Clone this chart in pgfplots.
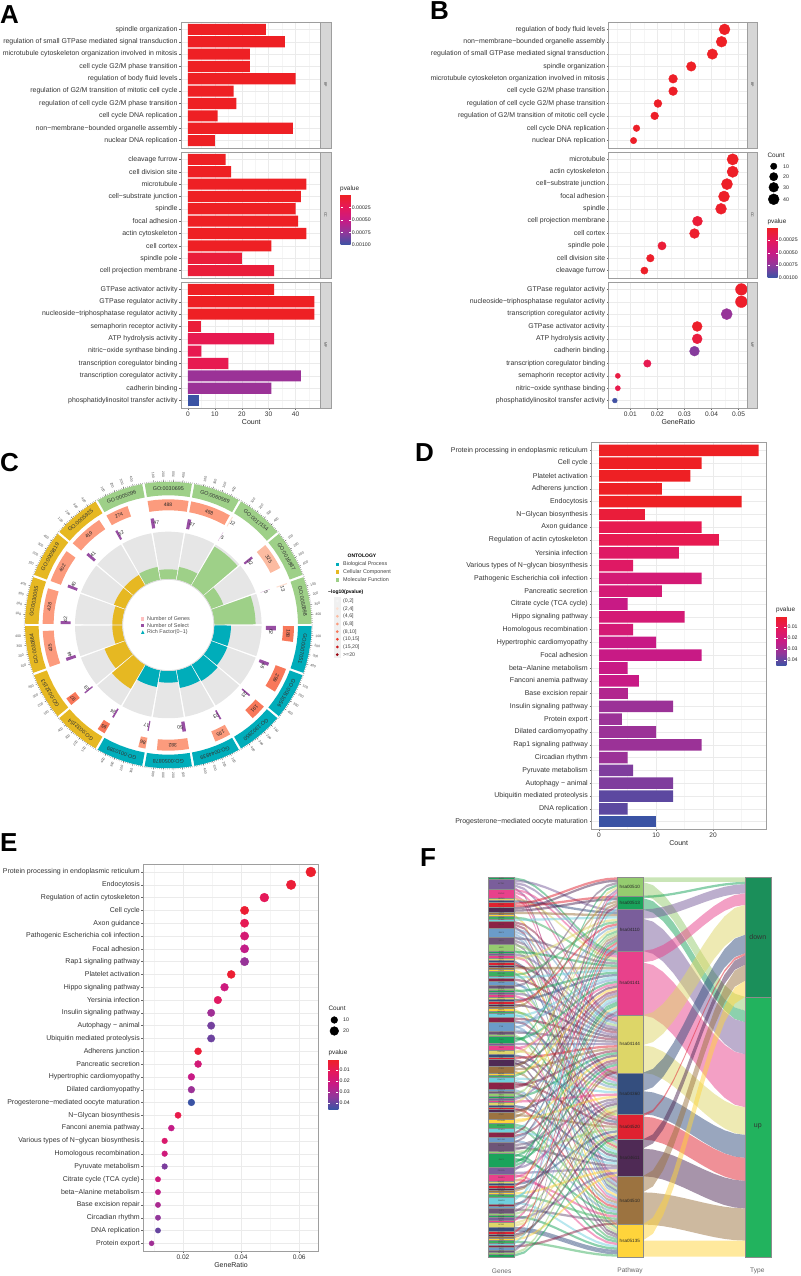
\documentclass[border=0pt]{standalone}
\usepackage{fontspec}
\setmainfont{Liberation Sans}
\usepackage{pgfplots}
\pgfplotsset{compat=1.18}
\usepgfplotslibrary{polar}

% p-value gradient, as continuous map and as steps for the bars
\pgfplotsset{colormap={pval}{rgb255=(238,32,36) rgb255=(229,25,92) rgb255=(200,26,133) rgb255=(144,56,155) rgb255=(58,83,164)}}
\definecolor{p0}{RGB}{238,32,36}
\definecolor{p1}{RGB}{234,29,58}
\definecolor{p2}{RGB}{231,26,81}
\definecolor{p3}{RGB}{223,25,100}
\definecolor{p4}{RGB}{212,26,117}
\definecolor{p5}{RGB}{200,26,133}
\definecolor{p6}{RGB}{178,38,142}
\definecolor{p7}{RGB}{155,50,151}
\definecolor{p8}{RGB}{127,61,157}
\definecolor{p9}{RGB}{92,72,160}
\definecolor{p10}{RGB}{58,83,164}

% alluvial palette
\definecolor{gc0}{RGB}{26,163,91}
\definecolor{gc1}{RGB}{122,94,155}
\definecolor{gc2}{RGB}{232,65,139}
\definecolor{gc3}{RGB}{221,214,104}
\definecolor{gc4}{RGB}{52,78,126}
\definecolor{gc5}{RGB}{223,34,48}
\definecolor{gc6}{RGB}{79,42,85}
\definecolor{gc7}{RGB}{156,115,64}
\definecolor{gc8}{RGB}{255,212,59}
\definecolor{gc9}{RGB}{60,175,95}
\definecolor{gc10}{RGB}{111,207,221}
\definecolor{gc11}{RGB}{139,35,70}
\definecolor{gc12}{RGB}{107,156,201}
\definecolor{gc13}{RGB}{110,85,119}
\definecolor{gc14}{RGB}{149,204,111}
\definecolor{tdown}{RGB}{27,143,90}
\definecolor{tup}{RGB}{34,179,94}

% circle plot
\definecolor{cteal}{RGB}{0,173,186}
\definecolor{cgold}{RGB}{230,184,34}
\definecolor{cgreen}{RGB}{158,208,136}
\definecolor{cgray}{RGB}{230,230,230}
\definecolor{cpurp}{RGB}{152,78,163}
\definecolor{cpale}{RGB}{216,180,216}
\definecolor{r1}{RGB}{245,245,245}
\definecolor{r2}{RGB}{254,224,210}
\definecolor{r3}{RGB}{252,187,161}
\definecolor{r4}{RGB}{252,155,125}
\definecolor{r5}{RGB}{248,120,90}
\definecolor{r6}{RGB}{239,59,44}
\definecolor{r7}{RGB}{203,24,29}
\definecolor{r8}{RGB}{153,0,13}

\newcommand\fs[1]{\fontsize{#1}{#1}\selectfont}

\pgfplotsset{
  gg/.style={scale only axis, anchor=south west, y dir=reverse,
    axis line style={draw=black!38,line width=.8pt},
    xtick pos=lower, ytick pos=left, tick align=outside, scaled x ticks=false,
    major tick length=1.8pt, minor tick length=0pt,
    tick style={draw=black!60,line width=.3pt},
    xmajorgrids, xminorgrids, ymajorgrids,
    major grid style={draw=black!8,line width=.35pt},
    minor grid style={draw=black!4,line width=.25pt},
    yticklabel style={font=\fs{6.95},text=black!80,inner xsep=1.5pt},
    xticklabel style={font=\fs{6.6},text=black!80,inner ysep=1.5pt},
  },
  facet/.style={gg, width=139pt, height=126pt, ymin=-0.6, ymax=9.6, ytick={0,...,9}},
  nox/.style={xticklabels={}, x tick style={draw=none}},
  barsA/.style={xbar, bar shift=0pt, bar width=0.9, xmin=-2.6, xmax=49.1,
    xtick={0,10,20,30,40}, minor xtick={5,15,25,35,45}},
  dotsB/.style={xmin=0.00203, xmax=0.0532, width=138.6pt,
    xtick={0.01,0.02,0.03,0.04,0.05}, minor xtick={0.005,0.015,0.025,0.035,0.045}},
  dots/.style={only marks, scatter, mark=*, scatter src=explicit,
    colormap name=pval,
    visualization depends on={1+#1*sqrt(\thisrow{n}) \as \rad},
    scatter/use mapped color={draw=mapped color,fill=mapped color},
    scatter/@pre marker code/.append style={/tikz/mark size=\rad}},
  blackdots/.style={only marks, mark=*, black,
    visualization depends on={1+#1*sqrt(\thisrow{n}) \as \rad},
    scatter, scatter src=x,
    scatter/use mapped color={draw=black,fill=black},
    scatter/@pre marker code/.append style={/tikz/mark size=\rad}},
}

% facet strip on the right of a panel
\newcommand\strip[4]{% x0 x1 ybottom label
  \draw[draw=black!38,line width=.8pt,fill=black!16] (#1,#3) rectangle (#2,#3+126);
  \node[font=\fs{3.6},text=black!75,rotate=-90] at ({(#1+#2)/2},#3+63) {#4};}

% colour key; #1 x, #2 y of the top, #3 range max, #4 rest of the style
% (the colour bar keeps its default shift of 0.3cm, taken off the x here)
\newcommand\pkey[4]{%
  \pgfplotscolorbardrawstandalone[colormap name=pval, point meta min=0, point meta max=#3,
    colorbar style={at={({#1pt-8.53pt},#2pt)}, anchor=north west, width=10pt, height=50pt,
      axis line style={draw=none}, tick align=inside, major tick length=2pt, scaled y ticks=false,
      tick style={draw=white,line width=.3pt},
      yticklabel style={font=\fs{5.2},text=black!85,inner xsep=1pt},#4}]}

% annular sector in the polar axis: from angle, to angle, inner r, outer r, colour
\newcommand\sector[5]{%
  \pgfmathsetmacro\da{(#2-#1)/5}%
  \gdef\pts{}%
  \foreach \k in {0,...,5}{\pgfmathsetmacro\tt{#1+\k*\da}\xdef\pts{\pts(\tt,#4)}}%
  \foreach \k in {5,4,3,2,1,0}{\pgfmathsetmacro\tt{#1+\k*\da}\xdef\pts{\pts(\tt,#3)}}%
  \edef\temp{\noexpand\addplot[fill=#5,draw=none] coordinates {\pts} --cycle;}\temp}

% alluvial band: x0 x1, top/bottom at x0, top/bottom at x1, colour
\newcommand\band[7]{%
  \gdef\pts{}%
  \foreach \tv/\sv in {0/0,0.1/0.028,0.2/0.104,0.3/0.216,0.4/0.352,0.5/0.5,0.6/0.648,0.7/0.784,0.8/0.896,0.9/0.972,1/1}{%
    \pgfmathsetmacro\xx{#1+(#2-#1)*\tv}\pgfmathsetmacro\yy{#3+(#5-#3)*\sv}\xdef\pts{\pts(\xx,\yy)}}%
  \foreach \tv/\sv in {1/1,0.9/0.972,0.8/0.896,0.7/0.784,0.6/0.648,0.5/0.5,0.4/0.352,0.3/0.216,0.2/0.104,0.1/0.028,0/0}{%
    \pgfmathsetmacro\xx{#1+(#2-#1)*\tv}\pgfmathsetmacro\yy{#4+(#6-#4)*\sv}\xdef\pts{\pts(\xx,\yy)}}%
  \edef\temp{\noexpand\addplot[fill=#7,fill opacity=0.5,draw=none] coordinates {\pts} --cycle;}\temp}

\newcommand\block[5]{% x0 x1 y0 y1 colour
  \addplot[fill=#5,draw=black!45,line width=.3pt] coordinates {(#1,#3)(#2,#3)(#2,#4)(#1,#4)} --cycle;}

% angle/colour/GO term/genes/selected/rich-factor radius/ring colour
\def\godata{0/cgreen/GO:0050998/13/5/87.3/r2, 20/cgreen/GO:0016887/325/32/58.7/r3,
 40/cgreen/GO:0017154/12/5/91/r2, 60/cgreen/GO:0060589/488/47/59/r4,
 80/cgreen/GO:0030695/488/47/55.7/r4, 100/cgreen/GO:0005096/274/32/59/r4,
 120/cgold/GO:0005925/419/41/58/r4, 140/cgold/GO:0005819/402/40/58/r4,
 160/cgold/GO:0030055/428/42/56/r4, 180/cgold/GO:0030864/435/44/56/r4,
 200/cgold/GO:0032153/97/19/68/r5, 220/cgold/GO:0032154/95/24/74/r5,
 240/cteal/GO:0010389/86/17/63/r4, 260/cteal/GO:0050878/382/50/57.7/r4,
 280/cteal/GO:0044839/195/23/64/r4, 300/cteal/GO:1902850/191/23/65/r5,
 320/cteal/GO:0051056/299/46/63/r5, 340/cteal/GO:0007051/188/62/62.7/r5}

% pathway of each gene unit, top to bottom
\def\seq{{3,2,3,4,8,3,4,7,8,3,2,0,1,0,1,2,9,3,2,4,5,8,4,5,7,8,3,5,8,4,7,8,
3,4,5,2,8,7,4,3,6,9,2,3,4,8,5,0,7,3,4,6,9,3,2,4,1,8,5,7,3,4,
6,3,8,2,5,4,9,7,3,0,4,8,3,5,2,6,4,7,9,3,1,4,8,3,2,5,7,6,4,3,
8,9,2,4,3,5,0,7,8,4,3,6,2,5,4,8,9,3,7,1,4,3,8,2,5,7,4,6,9,3,
8,4,2,3,5,0,7,9,4,8,3,6,2,5,4,7,8,3,1,9,4,2,8,3,5,9,7,0,5,6,
9,9,2,6,5,7,9,0,8,3,2,5,6}}
\newcount\gu
\expandafter\gdef\csname pos0\endcsname{0}
\expandafter\gdef\csname pos1\endcsname{8}
\expandafter\gdef\csname pos2\endcsname{14}
\expandafter\gdef\csname pos3\endcsname{32}
\expandafter\gdef\csname pos4\endcsname{60}
\expandafter\gdef\csname pos5\endcsname{85}
\expandafter\gdef\csname pos6\endcsname{103}
\expandafter\gdef\csname pos7\endcsname{114}
\expandafter\gdef\csname pos8\endcsname{130}
\expandafter\gdef\csname pos9\endcsname{151}

\begin{document}
\begin{tikzpicture}[x=1pt,y=1pt]
\useasboundingbox (0,0) rectangle (800,1276);

% ---------- panel letters
\foreach \lx/\ly/\lt in {0/1252/A,430/1256.5/B,0/804/C,415/814/D,0/424/E,420/409/F}
  \node[anchor=base west,inner sep=0pt,font=\fs{26}\bfseries] at (\lx,\ly) {\lt};

% ---------- A
\begin{axis}[facet, barsA, nox, at={(181pt,1128pt)},
  yticklabels={spindle organization,regulation of small GTPase mediated signal transduction,microtubule cytoskeleton organization involved in mitosis,cell cycle G2/M phase transition,regulation of body fluid levels,regulation of G2/M transition of mitotic cell cycle,regulation of cell cycle G2/M phase transition,cell cycle DNA replication,non−membrane−bounded organelle assembly,nuclear DNA replication}]
\addplot[fill=p0,draw=none] coordinates {(29,0)(36,1)(23,2)(23,3)(40,4)(17,5)(18,6)(11,7)(39,8)(10,9)};
\end{axis}
\begin{axis}[facet, barsA, nox, at={(181pt,998pt)},
  yticklabels={cleavage furrow,cell division site,microtubule,cell−substrate junction,spindle,focal adhesion,actin cytoskeleton,cell cortex,spindle pole,cell projection membrane}]
\addplot[fill=p0,draw=none] coordinates {(14,0)(16,1)(44,2)(42,3)(40,4)(41,5)(44,6)(31,7)};
\addplot[fill=p1,draw=none] coordinates {(20,8)(32,9)};
\end{axis}
\begin{axis}[facet, barsA, at={(181pt,868pt)}, xticklabels={0,10,20,30,40},
  yticklabels={GTPase activator activity,GTPase regulator activity,nucleoside−triphosphatase regulator activity,semaphorin receptor activity,ATP hydrolysis activity,nitric−oxide synthase binding,transcription coregulator binding,transcription coregulator activity,cadherin binding,phosphatidylinositol transfer activity}]
\addplot[fill=p0,draw=none] coordinates {(32,0)(47,1)(47,2)};
\addplot[fill=p1,draw=none] coordinates {(5,3)};
\addplot[fill=p2,draw=none] coordinates {(32,4)(5,5)(15,6)};
\addplot[fill=p7,draw=none] coordinates {(42,7)(31,8)};
\addplot[fill=p10,draw=none] coordinates {(4,9)};
\end{axis}
\strip{320}{331}{1128}{BP}\strip{320}{331}{998}{CC}\strip{320}{331}{868}{MF}
\node[font=\fs{7},text=black!85] at (251.3,853.7) {Count};
\node[anchor=west,inner sep=0pt,font=\fs{6.4},text=black!85] at (340,1087.3) {pvalue};
\pkey{340.7}{1081}{0.001}{y dir=reverse,ytick={0.00025,0.0005,0.00075,0.001},yticklabels={0.00025,0.00050,0.00075,0.00100}}

% ---------- B
\begin{axis}[facet, dotsB, nox, at={(608.7pt,1128pt)}, point meta min=0, point meta max=0.001,
  yticklabels={regulation of body fluid levels,non−membrane−bounded organelle assembly,regulation of small GTPase mediated signal transduction,spindle organization,microtubule cytoskeleton organization involved in mitosis,cell cycle G2/M phase transition,regulation of cell cycle G2/M phase transition,regulation of G2/M transition of mitotic cell cycle,cell cycle DNA replication,nuclear DNA replication}]
\addplot[dots=0.7] table[x=r,y expr=\coordindex,meta=p] {
r n p
0.0448 40 0.00001
0.0437 39 0.00001
0.0403 36 0.00001
0.0325 29 0.00001
0.0258 23 0.00002
0.0258 23 0.00002
0.0202 18 0.00002
0.0190 17 0.00002
0.0123 11 0.00002
0.0112 10 0.00002
};
\end{axis}
\begin{axis}[facet, dotsB, nox, at={(608.7pt,998pt)}, point meta min=0, point meta max=0.001,
  yticklabels={microtubule,actin cytoskeleton,cell−substrate junction,focal adhesion,spindle,cell projection membrane,cell cortex,spindle pole,cell division site,cleavage furrow}]
\addplot[dots=0.7] table[x=r,y expr=\coordindex,meta=p] {
r n p
0.0478 44 0.00001
0.0478 44 0.00002
0.0457 42 0.00002
0.0446 41 0.00002
0.0435 40 0.00003
0.0348 32 0.00009
0.0337 31 0.00004
0.0217 20 0.00009
0.0174 16 0.00003
0.0152 14 0.00002
};
\end{axis}
\begin{axis}[facet, dotsB, at={(608.7pt,868pt)}, point meta min=0, point meta max=0.001,
  xticklabels={0.01,0.02,0.03,0.04,0.05},
  yticklabels={GTPase regulator activity,nucleoside−triphosphatase regulator activity,transcription coregulator activity,GTPase activator activity,ATP hydrolysis activity,cadherin binding,transcription coregulator binding,semaphorin receptor activity,nitric−oxide synthase binding,phosphatidylinositol transfer activity}]
\addplot[dots=0.7] table[x=r,y expr=\coordindex,meta=p] {
r n p
0.0510 47 0.00003
0.0510 47 0.00003
0.0456 42 0.00072
0.0347 32 0.00003
0.0347 32 0.00012
0.0337 31 0.00078
0.0163 15 0.00020
0.0054 5 0.00014
0.0054 5 0.00018
0.0043 4 0.00098
};
\end{axis}
\strip{747.3}{757.3}{1128}{BP}\strip{747.3}{757.3}{998}{CC}\strip{747.3}{757.3}{868}{MF}
\node[font=\fs{7},text=black!85] at (678.3,853.7) {GeneRatio};
\node[anchor=west,inner sep=0pt,font=\fs{6.4},text=black!85] at (767.3,1121) {Count};
\begin{axis}[hide axis,scale only axis,anchor=south west,at={(763pt,1060pt)},width=30pt,height=60pt,
  xmin=763,xmax=793,ymin=1060,ymax=1120]
\addplot[blackdots=0.7] table {
x y n
773.7 1109.7 10
773.7 1099.3 20
773.7 1088.7 30
773.7 1076.7 40
};
\end{axis}
\foreach \ty/\tl in {1109.7/10,1099.3/20,1088.7/30,1076.7/40}
  \node[font=\fs{5.2},text=black!85] at (786,\ty) {\tl};
\node[anchor=west,inner sep=0pt,font=\fs{6.4},text=black!85] at (767.3,1054.3) {pvalue};
\pkey{767.7}{1048.3}{0.001}{ytick={0.00025,0.0005,0.00075,0.001},yticklabels={0.00025,0.00050,0.00075,0.00100}}

% ---------- C
\begin{polaraxis}[hide axis,scale only axis,anchor=south west,at={(8.3pt,491pt)},width=320pt,height=320pt,
  xmin=0,xmax=360,ymin=0,ymax=160]
\foreach \sa/\cl/\go/\nG/\nS/\rf/\rc in \godata {
  \pgfmathsetmacro\aa{\sa+0.5}\pgfmathsetmacro\ab{\sa+19.5}
  \sector{\aa}{\ab}{129.7}{143.3}{\cl}
  \sector{\aa}{\ab}{46}{93.3}{cgray}
  \sector{\aa}{\ab}{46}{\rf}{\cl}
  \pgfmathsetmacro\bb{\ab-\nG*0.0385}
  \sector{\bb}{\ab}{114.7}{125.7}{\rc}
  \pgfmathsetmacro\bb{\ab-\nS*0.0385}
  \ifnum\nS<6 \sector{\bb}{\ab}{97.7}{107.7}{cpale}\else \sector{\bb}{\ab}{97.7}{107.7}{cpurp}\fi
}
\end{polaraxis}
\begin{scope}[shift={(168.3,651)}]
\draw[black!14,line width=.8pt] (0,0) circle (45.6);
\foreach \sa/\cl/\go/\nG/\nS/\rf/\rc in \godata {
  \pgfmathsetmacro\mid{\sa+10}\pgfmathsetmacro\rot{\mid-90}
  \node[rotate=\rot,font=\fs{5.4},text=black!80,inner sep=0pt] at (\mid:136.5) {\go};
  % ring of gene numbers
  \pgfmathsetmacro\wg{\nG*0.0385}
  \ifnum\nG<50 \pgfmathsetmacro\tg{\sa+19.5-\wg-1.4}\else \pgfmathsetmacro\tg{\sa+19.5-\wg/2}\fi
  \pgfmathsetmacro\rot{\tg-90}
  \node[rotate=\rot,font=\fs{5},text=black!85,inner sep=0pt] at (\tg:120.2) {\nG};
  % ring of selected numbers
  \pgfmathsetmacro\ts{\sa+19.5-\nS*0.0385-1}
  \pgfmathsetmacro\rot{\ts-90}
  \node[rotate=\rot,font=\fs{5},text=black!85,inner sep=0pt] at (\ts:103) {\nS};
  % outer scale
  \foreach \v in {0,20,...,500}{
    \pgfmathsetmacro\ta{\sa+19.6-\v*0.0385}
    \draw[black!80,line width=.18pt] (\ta:143.3) -- (\ta:144.5);}
  \foreach \v in {100,200,300,400}{
    \pgfmathsetmacro\ta{\sa+19.6-\v*0.0385}
    \draw[black!80,line width=.2pt] (\ta:143.3) -- (\ta:145.5);
    \ifdim\ta pt>90pt \ifdim\ta pt<270pt \pgfmathsetmacro\rot{\ta-180}\else \pgfmathsetmacro\rot{\ta}\fi\else \pgfmathsetmacro\rot{\ta}\fi
    \node[rotate=\rot,font=\fs{3.4},text=black!70,inner sep=0pt] at (\ta:150.5) {\v};}
}
\end{scope}
% key in the middle of the ring
\fill[pink] (141,655.3) rectangle (144.4,658.7);
\fill[cpurp] (141,648.5) rectangle (144.4,651.9);
\fill[cteal] (141,642.2) -- (144.4,642.2) -- (142.7,645.6) -- cycle;
\foreach \ty/\tl in {657/Number of Genes,650.2/Number of Select,644/Rich Factor(0−1)}
  \node[anchor=west,inner sep=0pt,font=\fs{5.4},text=black!70] at (147,\ty) {\tl};
% keys at the right
\node[font=\fs{5}\bfseries] at (362,720.7) {ONTOLOGY};
\foreach \ty/\cc/\tl in {711.7/cteal/Biological Process,704/cgold/Cellular Component,696/cgreen/Molecular Function}{
  \fill[\cc] (335.6,\ty-1.7) rectangle (339,\ty+1.7);
  \node[anchor=west,inner sep=0pt,font=\fs{5.4},text=black!75] at (343,\ty) {\tl};}
\node[anchor=west,inner sep=0pt,font=\fs{5}\bfseries] at (328,684) {−log10(pvalue)};
\fill[black!6] (334,617.5) rectangle (341,679);
\foreach \ty/\cc/\tl in {675/r1/{(0,2]},667.3/r2/{(2,4]},659.7/r3/{(4,6]},652/r4/{(6,8]},644.3/r5/{(8,10]},636.7/r6/{(10,15]},629/r7/{(15,20]},621.3/r8/{>=20}}{
  \fill[\cc] (337.3,\ty) circle (1.5);
  \node[anchor=west,inner sep=0pt,font=\fs{5.2},text=black!75] at (343,\ty) {\tl};}

% ---------- D
\begin{axis}[gg, xbar, bar shift=0pt, bar width=0.9, at={(591.3pt,446.7pt)}, width=175.4pt, height=386.6pt,
  xmin=-1.35, xmax=29.4, ymin=-0.6, ymax=29.6, ytick={0,...,29},
  xtick={0,10,20}, minor xtick={5,15,25}, xticklabels={0,10,20},
  yticklabel style={font=\fs{7}},
  yticklabels={Protein processing in endoplasmic reticulum,Cell cycle,Platelet activation,Adherens junction,Endocytosis,N−Glycan biosynthesis,Axon guidance,Regulation of actin cytoskeleton,Yersinia infection,Various types of N−glycan biosynthesis,Pathogenic Escherichia coli infection,Pancreatic secretion,Citrate cycle (TCA cycle),Hippo signaling pathway,Homologous recombination,Hypertrophic cardiomyopathy,Focal adhesion,beta−Alanine metabolism,Fanconi anemia pathway,Base excision repair,Insulin signaling pathway,Protein export,Dilated cardiomyopathy,Rap1 signaling pathway,Circadian rhythm,Pyruvate metabolism,Autophagy − animal,Ubiquitin mediated proteolysis,DNA replication,Progesterone−mediated oocyte maturation}]
\addplot[fill=p0,draw=none] coordinates {(28,0)(18,1)(16,2)(11,3)(25,4)};
\addplot[fill=p1,draw=none] coordinates {(8,5)};
\addplot[fill=p2,draw=none] coordinates {(18,6)(21,7)};
\addplot[fill=p3,draw=none] coordinates {(14,8)(6,9)};
\addplot[fill=p4,draw=none] coordinates {(18,10)(11,11)(15,13)(6,14)};
\addplot[fill=p5,draw=none] coordinates {(5,12)(10,15)(18,16)(5,17)(7,18)};
\addplot[fill=p6,draw=none] coordinates {(5,19)};
\addplot[fill=p7,draw=none] coordinates {(13,20)(4,21)(10,22)(18,23)(5,24)};
\addplot[fill=p8,draw=none] coordinates {(6,25)(13,26)};
\addplot[fill=p9,draw=none] coordinates {(13,27)(5,28)};
\addplot[fill=p10,draw=none] coordinates {(10,29)};
\end{axis}
\node[font=\fs{7},text=black!85] at (678.7,432.7) {Count};
\node[anchor=west,inner sep=0pt,font=\fs{6.4},text=black!85] at (776,666) {pvalue};
\pkey{776.3}{660}{0.0458}{y dir=reverse,ytick={0.01,0.02,0.03,0.04},yticklabels={0.01,0.02,0.03,0.04}}

% ---------- E
\begin{axis}[gg, at={(143.3pt,25pt)}, width=175.4pt, height=386.7pt,
  xmin=0.00635, xmax=0.0667, ymin=-0.6, ymax=29.6, ytick={0,...,29},
  xtick={0.02,0.04,0.06}, minor xtick={0.01,0.03,0.05}, xticklabels={0.02,0.04,0.06},
  point meta min=0, point meta max=0.0458,
  yticklabel style={font=\fs{7}},
  yticklabels={Protein processing in endoplasmic reticulum,Endocytosis,Regulation of actin cytoskeleton,Cell cycle,Axon guidance,Pathogenic Escherichia coli infection,Focal adhesion,Rap1 signaling pathway,Platelet activation,Hippo signaling pathway,Yersinia infection,Insulin signaling pathway,Autophagy − animal,Ubiquitin mediated proteolysis,Adherens junction,Pancreatic secretion,Hypertrophic cardiomyopathy,Dilated cardiomyopathy,Progesterone−mediated oocyte maturation,N−Glycan biosynthesis,Fanconi anemia pathway,Various types of N−glycan biosynthesis,Homologous recombination,Pyruvate metabolism,Citrate cycle (TCA cycle),beta−Alanine metabolism,Base excision repair,Circadian rhythm,DNA replication,Protein export}]
\addplot[dots=0.75] table[x=r,y expr=\coordindex,meta=p] {
r n p
0.0640 28 0.002
0.0572 25 0.004
0.0480 21 0.011
0.0412 18 0.003
0.0412 18 0.010
0.0412 18 0.018
0.0412 18 0.024
0.0412 18 0.033
0.0366 16 0.003
0.0343 15 0.021
0.0320 14 0.013
0.0297 13 0.031
0.0297 13 0.038
0.0297 13 0.039
0.0252 11 0.004
0.0252 11 0.019
0.0229 10 0.023
0.0229 10 0.032
0.0229 10 0.046
0.0183 8 0.008
0.0160 7 0.024
0.0137 6 0.016
0.0137 6 0.020
0.0137 6 0.037
0.0114 5 0.021
0.0114 5 0.025
0.0114 5 0.029
0.0114 5 0.034
0.0114 5 0.040
0.0092 4 0.031
};
\end{axis}
\node[font=\fs{7},text=black!85] at (231,11.3) {GeneRatio};
\node[anchor=west,inner sep=0pt,font=\fs{6.4},text=black!85] at (328.3,267.3) {Count};
\begin{axis}[hide axis,scale only axis,anchor=south west,at={(320pt,235pt)},width=30pt,height=30pt,
  xmin=320,xmax=350,ymin=235,ymax=265]
\addplot[blackdots=0.75] table {
x y n
334.3 256 10
334.3 245 20
};
\end{axis}
\foreach \ty/\tl in {256/10,245/20}
  \node[font=\fs{5.2},text=black!85] at (346,\ty) {\tl};
\node[anchor=west,inner sep=0pt,font=\fs{6.4},text=black!85] at (328.3,223) {pvalue};
\pkey{328.4}{217}{0.0458}{ytick={0.01,0.02,0.03,0.04},yticklabels={0.01,0.02,0.03,0.04}}

% ---------- F
\begin{axis}[hide axis,scale only axis,anchor=south west,at={(488.3pt,19.3pt)},width=282.4pt,height=379.4pt,
  xmin=488.3,xmax=770.7,ymin=0,ymax=165,y dir=reverse,clip=false]
% pathway to type: pathway top, down, type-down top, type-up top, colour
\foreach \ps/\dn/\up/\td/\tu/\cc in {0/2/6/0/52/gc14,8/1/5/2/58/gc0,14/4/14/3/63/gc1,32/5/23/7/77/gc2,60/13/12/12/100/gc3,85/8/10/25/112/gc4,103/1/10/33/122/gc5,114/4/12/34/132/gc6,130/7/14/38/144/gc7,151/7/7/45/158/gc8}{
  \pgfmathsetmacro\pa{\ps+\dn}\pgfmathsetmacro\pb{\ps+\dn+\up}
  \pgfmathsetmacro\ta{\td+\dn}\pgfmathsetmacro\tb{\tu+\up}
  \band{642.7}{745}{\ps}{\pa}{\td}{\ta}{\cc}
  \band{642.7}{745}{\pa}{\pb}{\tu}{\tb}{\cc}
}
% genes to pathways: stratum size/name, colour follows the palette in turn
\global\gu=0
\foreach \sz/\nm [count=\kk from 0] in {
1/ALG3,4/ACTN1,4/CDC42,1/SEC13,1/MCM2,2/DPM1,2/GNAQ,1/CDK1,1/RPN2,1/HSPA5,1/CCNA2,3/RHOA,4/RAC1,3/MYL9,3/ARF6,
1/ALG8,1/BUB1,1/DNM1,1/EPN2,1/NRP1,1/CTNNB1,1/PLCB1,1/ITGA2,1/PDIA4,2/SEC24D,1/ORC1,1/CCNE2,2/HSPA8,1/UBE2G1,1/EPS15,
1/ROCK2,1/CDC20,1/ERO1A,1/RAB5C,1/SEMA6A,1/ACTB,1/GNAS,1/PAK2,1/LAMC1,1/MAN1A1,2/CHMP2A,2/ESPL1,4/FYN,1/VCP,1/DNAJB1,
3/CAV1,1/TTK,2/CALR,2/RAB11A,1/PLXNA1,1/TJP1,3/GNAI2,3/ITGB3,1/MAPK1,1/OSTC,2/PKMYT1,3/SRC,1/PPP1CA,1/SAR1A,1/EEA1,
1/NCK1,1/PLK1,1/SEL1L,1/ARPC4,1/EFNB2,1/VCL,1/COL1A1,3/PTK2,2/HSP90B1,2/ST6GAL1,2/CCND1,2/CDC42EP,2/MYL12A,4/RAP1B,1/SMC3,
6/RAC2,3/PIK3CA,3/PIK3R1,1/DDOST,1/MCM5,1/FGFR1,1/PRKACB,1/LAMA4,1/BCL2,1/STT3B,3/SMAD3,1/ITPR1,1/WEE1,2/SHC1,1/CAP1,
1/GSK3B,1/CHEK1,1/BAK1,2/AP2A1,2/EPHA2,1/ROBO1,1/ARHGEF7,1/FLNA,1/TUBB,1/UGGT1,1/CCNB2,1/MYLK,1/SKP2,1/SLIT2,1/DYNC1,
1/FZD7}{
  \pgfmathtruncatemacro\ci{mod(\kk,15)}
  \pgfmathsetmacro\gs{\the\gu}
  \pgfmathsetmacro\ge{\gs+\sz}
  \pgfmathtruncatemacro\nend{\sz-1}
  \foreach \jj in {0,...,\nend}{
    \pgfmathtruncatemacro\pp{\seq[\the\gu]}
    \edef\pos{\csname pos\pp\endcsname}
    \pgfmathsetmacro\ua{\the\gu}\pgfmathsetmacro\ub{\ua+1}\pgfmathsetmacro\pn{\pos+1}
    \band{514.3}{617}{\ua}{\ub}{\pos}{\pn}{gc\ci}
    \expandafter\xdef\csname pos\pp\endcsname{\pn}
    \global\advance\gu by 1
  }
  \edef\temp{\noexpand\block{488.3}{514.3}{\gs}{\ge}{gc\ci}}\temp
  \pgfmathsetmacro\gm{(\gs+\ge)/2}
  \edef\temp{\noexpand\node[font=\noexpand\fs{1.9},text=black!75,inner sep=0pt] at (axis cs:501.3,\gm) {\nm};}\temp
}
% pathway blocks
\block{617}{642.7}{0}{8}{gc14}
\block{617}{642.7}{8}{14}{gc0}
\block{617}{642.7}{14}{32}{gc1}
\block{617}{642.7}{32}{60}{gc2}
\block{617}{642.7}{60}{85}{gc3}
\block{617}{642.7}{85}{103}{gc4}
\block{617}{642.7}{103}{114}{gc5}
\block{617}{642.7}{114}{130}{gc6}
\block{617}{642.7}{130}{151}{gc7}
\block{617}{642.7}{151}{165}{gc8}
\block{745}{770.7}{0}{52}{tdown}
\block{745}{770.7}{52}{165}{tup}
\foreach \pm/\pl in {4/hsa00510,11/hsa00513,23/hsa04110,46/hsa04141,72.5/hsa04144,94/hsa04360,108.5/hsa04520,122/hsa04611,140.5/hsa04510,158/hsa05135}{
  \edef\temp{\noexpand\node[font=\noexpand\fs{4.6},text=black!85,inner sep=0pt] at (axis cs:629.8,\pm) {\pl};}\temp}
\node[font=\fs{7},text=black!80,inner sep=0pt] at (axis cs:757.8,26) {down};
\node[font=\fs{7},text=black!80,inner sep=0pt] at (axis cs:757.8,108.5) {up};
\end{axis}
\foreach \lx/\lt in {501.7/Genes,630/Pathway,757.3/Type}
  \node[font=\fs{6.6},text=black!60] at (\lx,5) {\lt};
\end{tikzpicture}
\end{document}
